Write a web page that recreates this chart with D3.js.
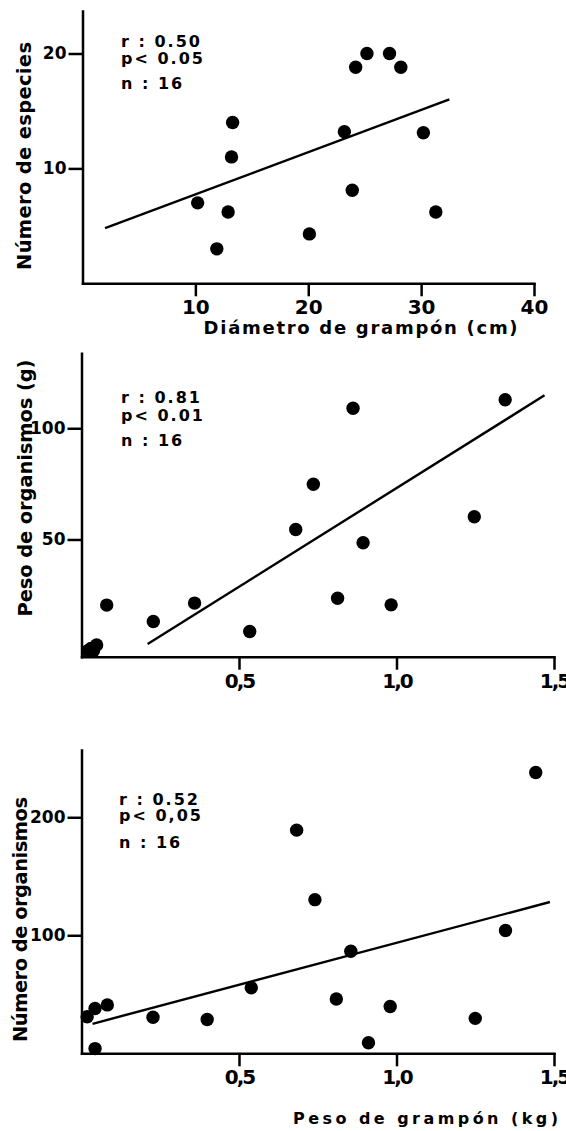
<!DOCTYPE html>
<html>
<head>
<meta charset="utf-8">
<script src="https://cdnjs.cloudflare.com/ajax/libs/d3/7.8.5/d3.min.js"></script>
<style>
  body { margin: 0; background: #fff; }
  svg text { font-family: "DejaVu Sans", sans-serif; font-weight: bold; fill: #000; }
  .axis path, .axis line { stroke: #000; stroke-width: 2.5; }
  .fit { stroke: #000; stroke-width: 2.4; fill: none; }
  .dot { fill: #000; }
  .stat { font-size: 16px; letter-spacing: 2px; white-space: pre; }
</style>
</head>
<body>
<div id="chart"></div>
<script>

// values

// top: numero de especies vs diametro de grampon
var diametroGrampon = [10.2, 11.9, 12.9, 13.2, 13.3, 20.1, 23.2, 23.9, 24.2, 25.2, 27.2, 28.2, 30.2, 31.3];
var numeroEspecies  = [7.0, 3.0, 6.2, 11.0, 14.0, 4.3, 13.2, 8.1, 18.8, 20.0, 20.0, 18.8, 13.1, 6.2];
var fit1X = [2.0, 32.5];
var fit1Y = [4.8, 16.0];
var ticks1X = [10, 20, 30, 40];
var ticks1Y = [10, 20];
var stats1 = ["r : 0.50", "p< 0.05", "n : 16"];

// middle: peso de organismos vs peso de grampon
var pesoGrampon2   = [0.020, 0.030, 0.038, 0.048, 0.080, 0.228, 0.359, 0.534, 0.680, 0.736, 0.813, 0.862, 0.894, 0.983, 1.247, 1.345];
var pesoOrganismos = [0.0, 1.0, 0.0, 2.6, 20.5, 13.1, 21.4, 8.6, 54.5, 74.8, 23.6, 109.0, 48.5, 20.6, 60.2, 112.8];
var fit2X = [0.21, 1.47];
var fit2Y = [3.0, 114.8];
var ticks2X = [0.5, 1.0, 1.5];
var ticks2Y = [50, 100];
var stats2 = ["r : 0.81", "p< 0.01", "n : 16"];

// bottom: numero de organismos vs peso de grampon
var pesoGrampon3  = [0.018, 0.043, 0.043, 0.082, 0.227, 0.399, 0.539, 0.683, 0.741, 0.809, 0.855, 0.911, 0.980, 1.250, 1.346, 1.442];
var numOrganismos = [31.0, 38.0, 4.0, 41.0, 30.5, 28.7, 55.5, 189.1, 130.2, 46.0, 86.5, 8.9, 39.7, 29.6, 104.0, 237.9];
var fit3X = [0.035, 1.487];
var fit3Y = [25.0, 128.2];
var ticks3X = [0.5, 1.0, 1.5];
var ticks3Y = [100, 200];
var stats3 = ["r : 0.52", "p< 0,05", "n : 16"];


var commaFormat = function(d){ return d3.format(".1f")(d).replace(".", ","); };

ScatterPanel = function(_svg, _cfg){
    this.svg = _svg;
    this.cfg = _cfg;
    this.initVis();
};

ScatterPanel.prototype.initVis = function(){
    var vis = this;
    var c = vis.cfg;

    vis.g = vis.svg.append("g");

    vis.x = d3.scaleLinear().domain(c.xDomain).range([c.left, c.right]);
    vis.y = d3.scaleLinear().domain(c.yDomain).range([c.bottom, c.top]);

    vis.points = c.xs.map(function(d, i){ return { x: d, y: c.ys[i] }; });

    vis.drawAxes();
    vis.drawMarks();
    vis.drawText();
};

ScatterPanel.prototype.drawAxes = function(){
    var vis = this;
    var c = vis.cfg;

    var xAxis = d3.axisBottom(vis.x)
        .tickValues(c.xTicks)
        .tickFormat(c.xFormat)
        .tickSize(13)
        .tickSizeOuter(0)
        .tickPadding(4);

    var yAxis = d3.axisLeft(vis.y)
        .tickValues(c.yTicks)
        .tickFormat(d3.format("d"))
        .tickSize(14)
        .tickSizeOuter(0)
        .tickPadding(2);

    vis.g.append("g")
        .attr("class", "axis")
        .attr("transform", "translate(0," + c.bottom + ")")
        .call(xAxis)
        .selectAll("text")
        .style("font-size", "20px")
        .style("letter-spacing", c.xTickSpacing);

    vis.g.append("g")
        .attr("class", "axis")
        .attr("transform", "translate(" + c.left + ",0)")
        .call(yAxis)
        .selectAll("text")
        .style("font-size", "17px");

    vis.g.selectAll(".axis path").attr("stroke-linecap", "square");
};

ScatterPanel.prototype.drawMarks = function(){
    var vis = this;
    var c = vis.cfg;

    var line = d3.line()
        .x(function(d){ return vis.x(d[0]); })
        .y(function(d){ return vis.y(d[1]); });

    vis.g.append("path")
        .attr("class", "fit")
        .attr("d", line(c.fitX.map(function(d, i){ return [d, c.fitY[i]]; })));

    vis.g.selectAll(".dot")
        .data(vis.points)
        .enter().append("circle")
        .attr("class", "dot")
        .attr("r", 6.7)
        .attr("cx", function(d){ return vis.x(d.x); })
        .attr("cy", function(d){ return vis.y(d.y); });
};

ScatterPanel.prototype.drawText = function(){
    var vis = this;
    var c = vis.cfg;

    vis.g.selectAll(".stat")
        .data(c.stats)
        .enter().append("text")
        .attr("class", "stat")
        .attr("x", c.statsX)
        .attr("y", function(d, i){ return c.statsY[i]; })
        .text(function(d){ return d; });

    vis.g.append("text")
        .attr("transform", "translate(" + c.yLabelX + "," + c.yLabelY + ") rotate(-90)")
        .attr("text-anchor", "middle")
        .attr("textLength", c.yLabelLen)
        .attr("lengthAdjust", "spacing")
        .style("font-size", "19.5px")
        .text(c.yLabel);

    if (c.xLabel) {
        vis.g.append("text")
            .attr("x", c.xLabelX)
            .attr("y", c.xLabelY)
            .attr("text-anchor", "middle")
            .attr("textLength", c.xLabelLen)
            .attr("lengthAdjust", "spacing")
            .style("font-size", c.xLabelSize)
            .text(c.xLabel);
    }
};


var svg = d3.select("#chart").append("svg")
    .attr("width", 566)
    .attr("height", 1131);

new ScatterPanel(svg, {
    xs: diametroGrampon, ys: numeroEspecies, fitX: fit1X, fitY: fit1Y,
    xDomain: [0, 40], yDomain: [0, 23.7],
    left: 82.5, right: 534, top: 11, bottom: 283.3,
    xTicks: ticks1X, yTicks: ticks1Y, xFormat: d3.format("d"), xTickSpacing: "0px",
    stats: stats1, statsX: 121, statsY: [46.7, 64.3, 89.3],
    yLabel: "Número de especies", yLabelX: 31, yLabelY: 156, yLabelLen: 228,
    xLabel: "Diámetro de grampón (cm)", xLabelX: 360.6, xLabelY: 334, xLabelLen: 314, xLabelSize: "18px"
});

new ScatterPanel(svg, {
    xs: pesoGrampon2, ys: pesoOrganismos, fitX: fit2X, fitY: fit2Y,
    xDomain: [0, 1.5], yDomain: [-2.7, 133.7],
    left: 81.5, right: 554, top: 353.3, bottom: 656.7,
    xTicks: ticks2X, yTicks: ticks2Y, xFormat: commaFormat, xTickSpacing: "-2px",
    stats: stats2, statsX: 121, statsY: [403.3, 421, 446],
    yLabel: "Peso de organismos (g)", yLabelX: 32, yLabelY: 488, yLabelLen: 257
});

new ScatterPanel(svg, {
    xs: pesoGrampon3, ys: numOrganismos, fitX: fit3X, fitY: fit3Y,
    xDomain: [0, 1.5], yDomain: [0, 257],
    left: 81.5, right: 554, top: 750, bottom: 1053.3,
    xTicks: ticks3X, yTicks: ticks3Y, xFormat: commaFormat, xTickSpacing: "-2px",
    stats: stats3, statsX: 119, statsY: [805, 821, 848.3],
    yLabel: "Número de organismos", yLabelX: 27, yLabelY: 919.5, yLabelLen: 245,
    xLabel: "Peso de grampón (kg)", xLabelX: 425.5, xLabelY: 1124, xLabelLen: 265, xLabelSize: "16px"
});

</script>
</body>
</html>
